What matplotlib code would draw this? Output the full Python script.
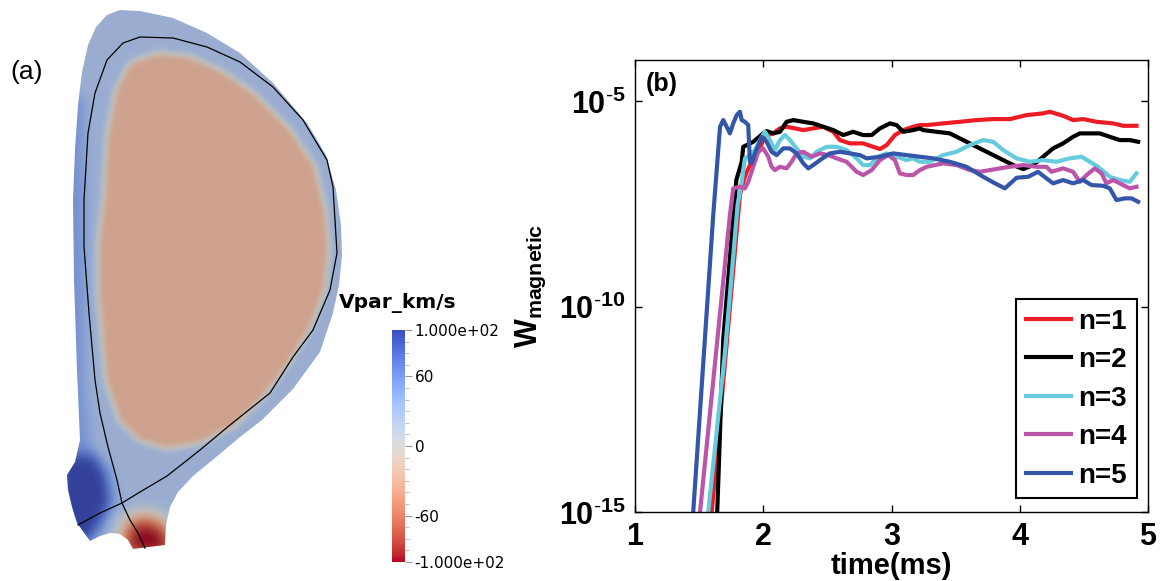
import numpy as np
import matplotlib
matplotlib.use('Agg')
import matplotlib.pyplot as plt
from matplotlib.path import Path
from matplotlib.patches import Polygon
from matplotlib.colors import Normalize
from matplotlib.cm import ScalarMappable

plt.rcParams['mathtext.fontset'] = 'custom'
plt.rcParams['mathtext.rm'] = 'Liberation Sans'
plt.rcParams['mathtext.bf'] = 'Liberation Sans:bold'

# ---------------- panel (a): poloidal cross-section, image units (px) ----------------
outer_r = [120, 140, 173, 207, 240, 273, 307, 326, 336, 341, 342, 339, 333, 320, 293, 262, 240, 215,
           193, 178, 170, 166, 165, 133, 128, 120, 110, 100, 90, 77, 72, 68, 67, 75, 80, 77, 74, 73,
           75, 78, 82, 88, 96, 107]
outer_z = [10, 11, 18, 33, 53, 83, 123, 155, 190, 225, 255, 285, 313, 352, 389, 420, 437, 458,
           476, 492, 507, 525, 545, 549, 540, 534, 533, 536, 541, 523, 507, 490, 475, 462, 440, 370, 280, 200,
           150, 105, 72, 45, 27, 15]

sep_r = [122, 117, 108, 100, 95, 89, 84, 84, 88, 95, 107, 123, 140, 173, 207, 240, 273, 303, 327, 333,
         335, 337, 330, 313, 293, 270, 230, 200, 167, 140, 122]
sep_z = [503, 480, 447, 413, 380, 313, 247, 200, 133, 93, 60, 43, 37, 38, 47, 62, 87, 120, 160, 187,
         220, 253, 290, 330, 357, 393, 425, 450, 476, 492, 503]
leg_r = [78, 100, 122, 130, 138, 145]
leg_z = [525, 513, 503, 520, 533, 548]

core_r = [103, 106, 115, 130, 157, 190, 223, 257, 290, 315, 326, 329, 325, 310, 287, 262, 233, 200,
          167, 140, 118, 105, 98, 98]
core_z = [200, 140, 90, 63, 53, 57, 72, 96, 130, 167, 213, 250, 290, 330, 367, 400, 428, 444,
          450, 442, 420, 380, 300, 240]

hfs_r = [60, 84, 86, 84, 90, 96, 60]
hfs_z = [80, 100, 250, 380, 440, 470, 470]
ldiv_r = [58, 94, 108, 112, 100, 84, 58]
ldiv_z = [456, 454, 474, 503, 528, 548, 542]
rdiv_r = [124, 140, 160, 174, 174, 120]
rdiv_z = [524, 515, 520, 535, 560, 560]

v_sol = 28
v_core = -30
v_hfs = 52
v_ldiv = 100
v_rdiv = -100

cb_ticks = [100, 60, 0, -60, -100]
cb_labels = ['1.000e+02', '60', '0', '-60', '-1.000e+02']

# ---------------- panel (b): magnetic energy, (time ms, log10 W) ----------------
t1 = [1.598, 1.818, 1.844, 1.871, 1.910, 1.961, 2.000, 2.039, 2.078, 2.130, 2.182, 2.247, 2.312, 2.390,
      2.468, 2.546, 2.598, 2.676, 2.779, 2.857, 2.910, 2.962, 3.027, 3.091, 3.169, 3.221, 3.274, 3.403,
      3.533, 3.663, 3.793, 3.923, 4.053, 4.182, 4.235, 4.338, 4.416, 4.494, 4.599, 4.728, 4.806, 4.910]
w1 = [-15.0, -7.287, -6.964, -6.720, -6.477, -6.234, -5.949, -5.827, -5.786, -5.664, -5.625, -5.664,
      -5.706, -5.664, -5.625, -5.747, -5.949, -6.029, -6.029, -6.112, -6.168, -6.071, -5.827, -5.706,
      -5.625, -5.584, -5.584, -5.543, -5.504, -5.462, -5.438, -5.438, -5.341, -5.299, -5.260, -5.358,
      -5.462, -5.438, -5.504, -5.543, -5.601, -5.601]

t2 = [1.641, 1.688, 1.790, 1.832, 1.844, 1.871, 1.922, 2.000, 2.026, 2.078, 2.130, 2.182, 2.234, 2.312,
      2.390, 2.468, 2.546, 2.624, 2.701, 2.779, 2.845, 2.910, 2.988, 3.040, 3.091, 3.169, 3.221, 3.247,
      3.352, 3.455, 3.559, 3.663, 3.767, 3.871, 3.949, 4.027, 4.104, 4.182, 4.260, 4.338, 4.416, 4.468,
      4.546, 4.624, 4.702, 4.780, 4.858, 4.923]
w2 = [-15.0, -10.8, -6.922, -6.477, -6.112, -6.071, -5.990, -5.786, -5.730, -5.786, -5.747, -5.504,
      -5.462, -5.504, -5.543, -5.625, -5.706, -5.827, -5.747, -5.827, -5.827, -5.664, -5.543, -5.584,
      -5.747, -5.706, -5.664, -5.706, -5.747, -5.786, -5.949, -6.112, -6.273, -6.436, -6.557, -6.655,
      -6.557, -6.355, -6.151, -6.029, -5.869, -5.786, -5.786, -5.786, -5.869, -5.949, -5.949, -5.990]

t3 = [1.571, 1.701, 1.800, 1.832, 1.857, 1.896, 1.935, 1.974, 2.013, 2.052, 2.091, 2.130, 2.169, 2.208,
      2.260, 2.312, 2.364, 2.416, 2.494, 2.572, 2.650, 2.728, 2.779, 2.832, 2.896, 2.962, 3.040, 3.118,
      3.169, 3.221, 3.299, 3.403, 3.507, 3.611, 3.715, 3.793, 3.871, 3.975, 4.079, 4.182, 4.287, 4.390,
      4.482, 4.546, 4.611, 4.702, 4.780, 4.858, 4.910]
w3 = [-15.0, -11.131, -7.530, -6.964, -6.394, -6.314, -6.192, -5.949, -5.747, -5.949, -6.192, -5.949,
      -5.827, -5.949, -6.151, -6.355, -6.394, -6.234, -6.112, -6.112, -6.192, -6.394, -6.557, -6.557,
      -6.355, -6.273, -6.355, -6.436, -6.394, -6.477, -6.477, -6.314, -6.234, -6.071, -5.949, -5.990,
      -6.192, -6.394, -6.477, -6.436, -6.477, -6.394, -6.355, -6.477, -6.599, -6.842, -6.922, -6.964,
      -6.759]

t4 = [1.507, 1.740, 1.766, 1.818, 1.857, 1.883, 1.922, 1.961, 2.000, 2.039, 2.065, 2.091, 2.130, 2.182,
      2.221, 2.260, 2.312, 2.377, 2.442, 2.507, 2.572, 2.650, 2.728, 2.779, 2.845, 2.910, 2.974, 3.027,
      3.065, 3.118, 3.169, 3.221, 3.274, 3.403, 3.507, 3.611, 3.689, 3.767, 3.845, 3.923, 4.027, 4.131,
      4.208, 4.247, 4.338, 4.416, 4.468, 4.521, 4.585, 4.638, 4.676, 4.728, 4.806, 4.858, 4.910]
w4 = [-15.0, -7.774, -7.124, -7.085, -7.124, -6.964, -6.599, -6.234, -6.151, -6.355, -6.599, -6.679,
      -6.599, -6.637, -6.477, -6.273, -6.234, -6.355, -6.273, -6.314, -6.394, -6.477, -6.720, -6.800,
      -6.679, -6.436, -6.314, -6.436, -6.759, -6.800, -6.800, -6.679, -6.599, -6.516, -6.557, -6.679,
      -6.720, -6.679, -6.637, -6.599, -6.557, -6.599, -6.599, -6.720, -6.637, -6.720, -6.964, -6.800,
      -6.637, -6.759, -7.002, -6.922, -7.044, -7.124, -7.085]

t5 = [1.454, 1.610, 1.663, 1.688, 1.715, 1.740, 1.766, 1.793, 1.818, 1.832, 1.857, 1.883, 1.896, 1.910,
      1.935, 1.988, 2.026, 2.065, 2.104, 2.156, 2.208, 2.260, 2.312, 2.351, 2.390, 2.442, 2.520, 2.598,
      2.676, 2.754, 2.806, 2.910, 3.013, 3.118, 3.221, 3.325, 3.455, 3.585, 3.715, 3.793, 3.884, 3.975,
      4.066, 4.143, 4.182, 4.260, 4.338, 4.416, 4.494, 4.560, 4.650, 4.702, 4.754, 4.819, 4.871, 4.923]
w5 = [-15.0, -7.774, -5.625, -5.462, -5.625, -5.786, -5.543, -5.341, -5.260, -5.462, -5.504, -5.584,
      -6.477, -6.516, -6.273, -5.869, -5.990, -6.234, -6.314, -6.151, -6.151, -6.273, -6.516, -6.637,
      -6.557, -6.436, -6.273, -6.234, -6.273, -6.314, -6.394, -6.355, -6.273, -6.314, -6.355, -6.394,
      -6.477, -6.599, -6.842, -6.978, -7.124, -6.866, -6.842, -6.720, -6.818, -7.002, -6.922, -7.002,
      -6.922, -7.044, -7.061, -7.124, -7.409, -7.367, -7.367, -7.450]

series_t = [t1, t2, t3, t4, t5]
series_w = [w1, w2, w3, w4, w5]
labels = ['n=1', 'n=2', 'n=3', 'n=4', 'n=5']
colors = ['#ED1C24', '#000000', '#66CCDD', '#BB55AA', '#3355AA']
ytick_vals = [1e-15, 1e-10, 1e-5]
ytick_text = [r'$\mathbf{10^{\text{-}15}}$', r'$\mathbf{10^{\text{-}10}}$', r'$\mathbf{10^{\text{-}5}}$']


def blur(a, r, passes=3):
    k = np.ones(2 * r + 1) / (2 * r + 1)
    for _ in range(passes):
        a = np.apply_along_axis(lambda v: np.convolve(v, k, mode='same'), 0, a)
        a = np.apply_along_axis(lambda v: np.convolve(v, k, mode='same'), 1, a)
    return a


def mask(r, z, shape, pts):
    return Path(np.column_stack([r, z])).contains_points(pts).reshape(shape).astype(float)


fig = plt.figure(figsize=(11.61, 5.81), dpi=100)

ax0 = fig.add_axes([0, 0, 560 / 1161, 1])
xs = np.arange(0, 361)
ys = np.arange(0, 561)
XX, YY = np.meshgrid(xs, ys)
pts = np.column_stack([XX.ravel(), YY.ravel()])

field = np.full(XX.shape, float(v_sol))
for rr, zz, val, rad in [(hfs_r, hfs_z, v_hfs, 5),
                         (core_r, core_z, v_core, 3),
                         (ldiv_r, ldiv_z, v_ldiv, 6),
                         (rdiv_r, rdiv_z, v_rdiv, 8)]:
    w = blur(mask(rr, zz, XX.shape, pts), rad)
    field = field * (1 - w) + val * w

cmap = plt.get_cmap('coolwarm_r')
norm = Normalize(vmin=-100, vmax=100)
rgba = cmap(norm(field))
rgb = rgba[..., :3] * 0.85
lum = rgb @ np.array([0.3, 0.59, 0.11])
rgba[..., :3] = 0.9 * rgb + 0.1 * lum[..., None]

clip = Polygon(np.column_stack([outer_r, outer_z]), closed=True, facecolor='none', edgecolor='none')
ax0.add_patch(clip)
im = ax0.imshow(rgba, extent=(-0.5, 360.5, 560.5, -0.5), origin='upper', interpolation='bilinear')
im.set_clip_path(clip)
ax0.plot(sep_r, sep_z, color='black', lw=0.9)
ax0.plot(leg_r, leg_z, color='black', lw=0.9)
ax0.set_xlim(0, 560)
ax0.set_ylim(581, 0)
ax0.set_aspect('auto')
ax0.axis('off')

fig.text(10 / 1161, 1 - 72 / 581, '(a)', fontsize=19, family='Liberation Sans', va='center', ha='left')

cax = fig.add_axes([392 / 1161, 1 - 562 / 581, 13 / 1161, 232 / 581])
cb = fig.colorbar(ScalarMappable(norm=norm, cmap=cmap), cax=cax)
cb.outline.set_visible(False)
cb.set_ticks(cb_ticks)
cb.set_ticklabels(cb_labels)
cb.ax.set_yticks(np.arange(-100, 101, 10), minor=True)
cb.ax.tick_params(which='major', length=5, width=0.8, color='0.6', labelsize=11, pad=2)
cb.ax.tick_params(which='minor', length=3, width=0.6, color='0.7')
fig.text(339 / 1161, 1 - 308 / 581, 'Vpar_km/s', fontsize=14.5, fontweight='bold', va='baseline', ha='left')

# ---------------- panel (b) ----------------
ax = fig.add_axes([635 / 1161, 1 - 512 / 581, 513 / 1161, 452 / 581])
for t, w, lab, c in zip(series_t, series_w, labels, colors):
    ax.plot(t, 10.0 ** np.array(w), color=c, lw=3, label=lab)
ax.set_yscale('log')
ax.set_xlim(1, 5)
ax.set_ylim(1e-15, 1e-4)
ax.set_xticks([1, 2, 3, 4, 5])
ax.set_xticklabels(['1', '2', '3', '4', '5'])
ax.set_yticks(ytick_vals)
ax.set_yticklabels(ytick_text)
ax.minorticks_off()
ax.tick_params(direction='in', length=5, width=1, top=True, right=True, pad=7, labelsize=22)
for lbl in ax.get_xticklabels():
    lbl.set_fontweight('bold')
    lbl.set_family('Liberation Sans')
for s in ax.spines.values():
    s.set_linewidth(1.0)
ax.set_xlabel('time(ms)', fontsize=21, fontweight='bold', family='Liberation Sans', labelpad=0)
ax.set_ylabel(r'$\mathbf{W_{magnetic}}$', fontsize=22, labelpad=8)
ax.text(0.02, 0.947, '(b)', transform=ax.transAxes, fontsize=18, fontweight='bold',
        family='Liberation Sans', va='center', ha='left')
leg = ax.legend(loc='lower right', bbox_to_anchor=(0.978, 0.03), prop={'family': 'Liberation Sans',
                'weight': 'bold', 'size': 20}, frameon=True, fancybox=False, edgecolor='black',
                framealpha=1, handlelength=1.65, handletextpad=0.25, labelspacing=0.45, borderpad=0.35,
                borderaxespad=0)
leg.get_frame().set_linewidth(1.5)

fig.savefig('out.png', dpi=100)
